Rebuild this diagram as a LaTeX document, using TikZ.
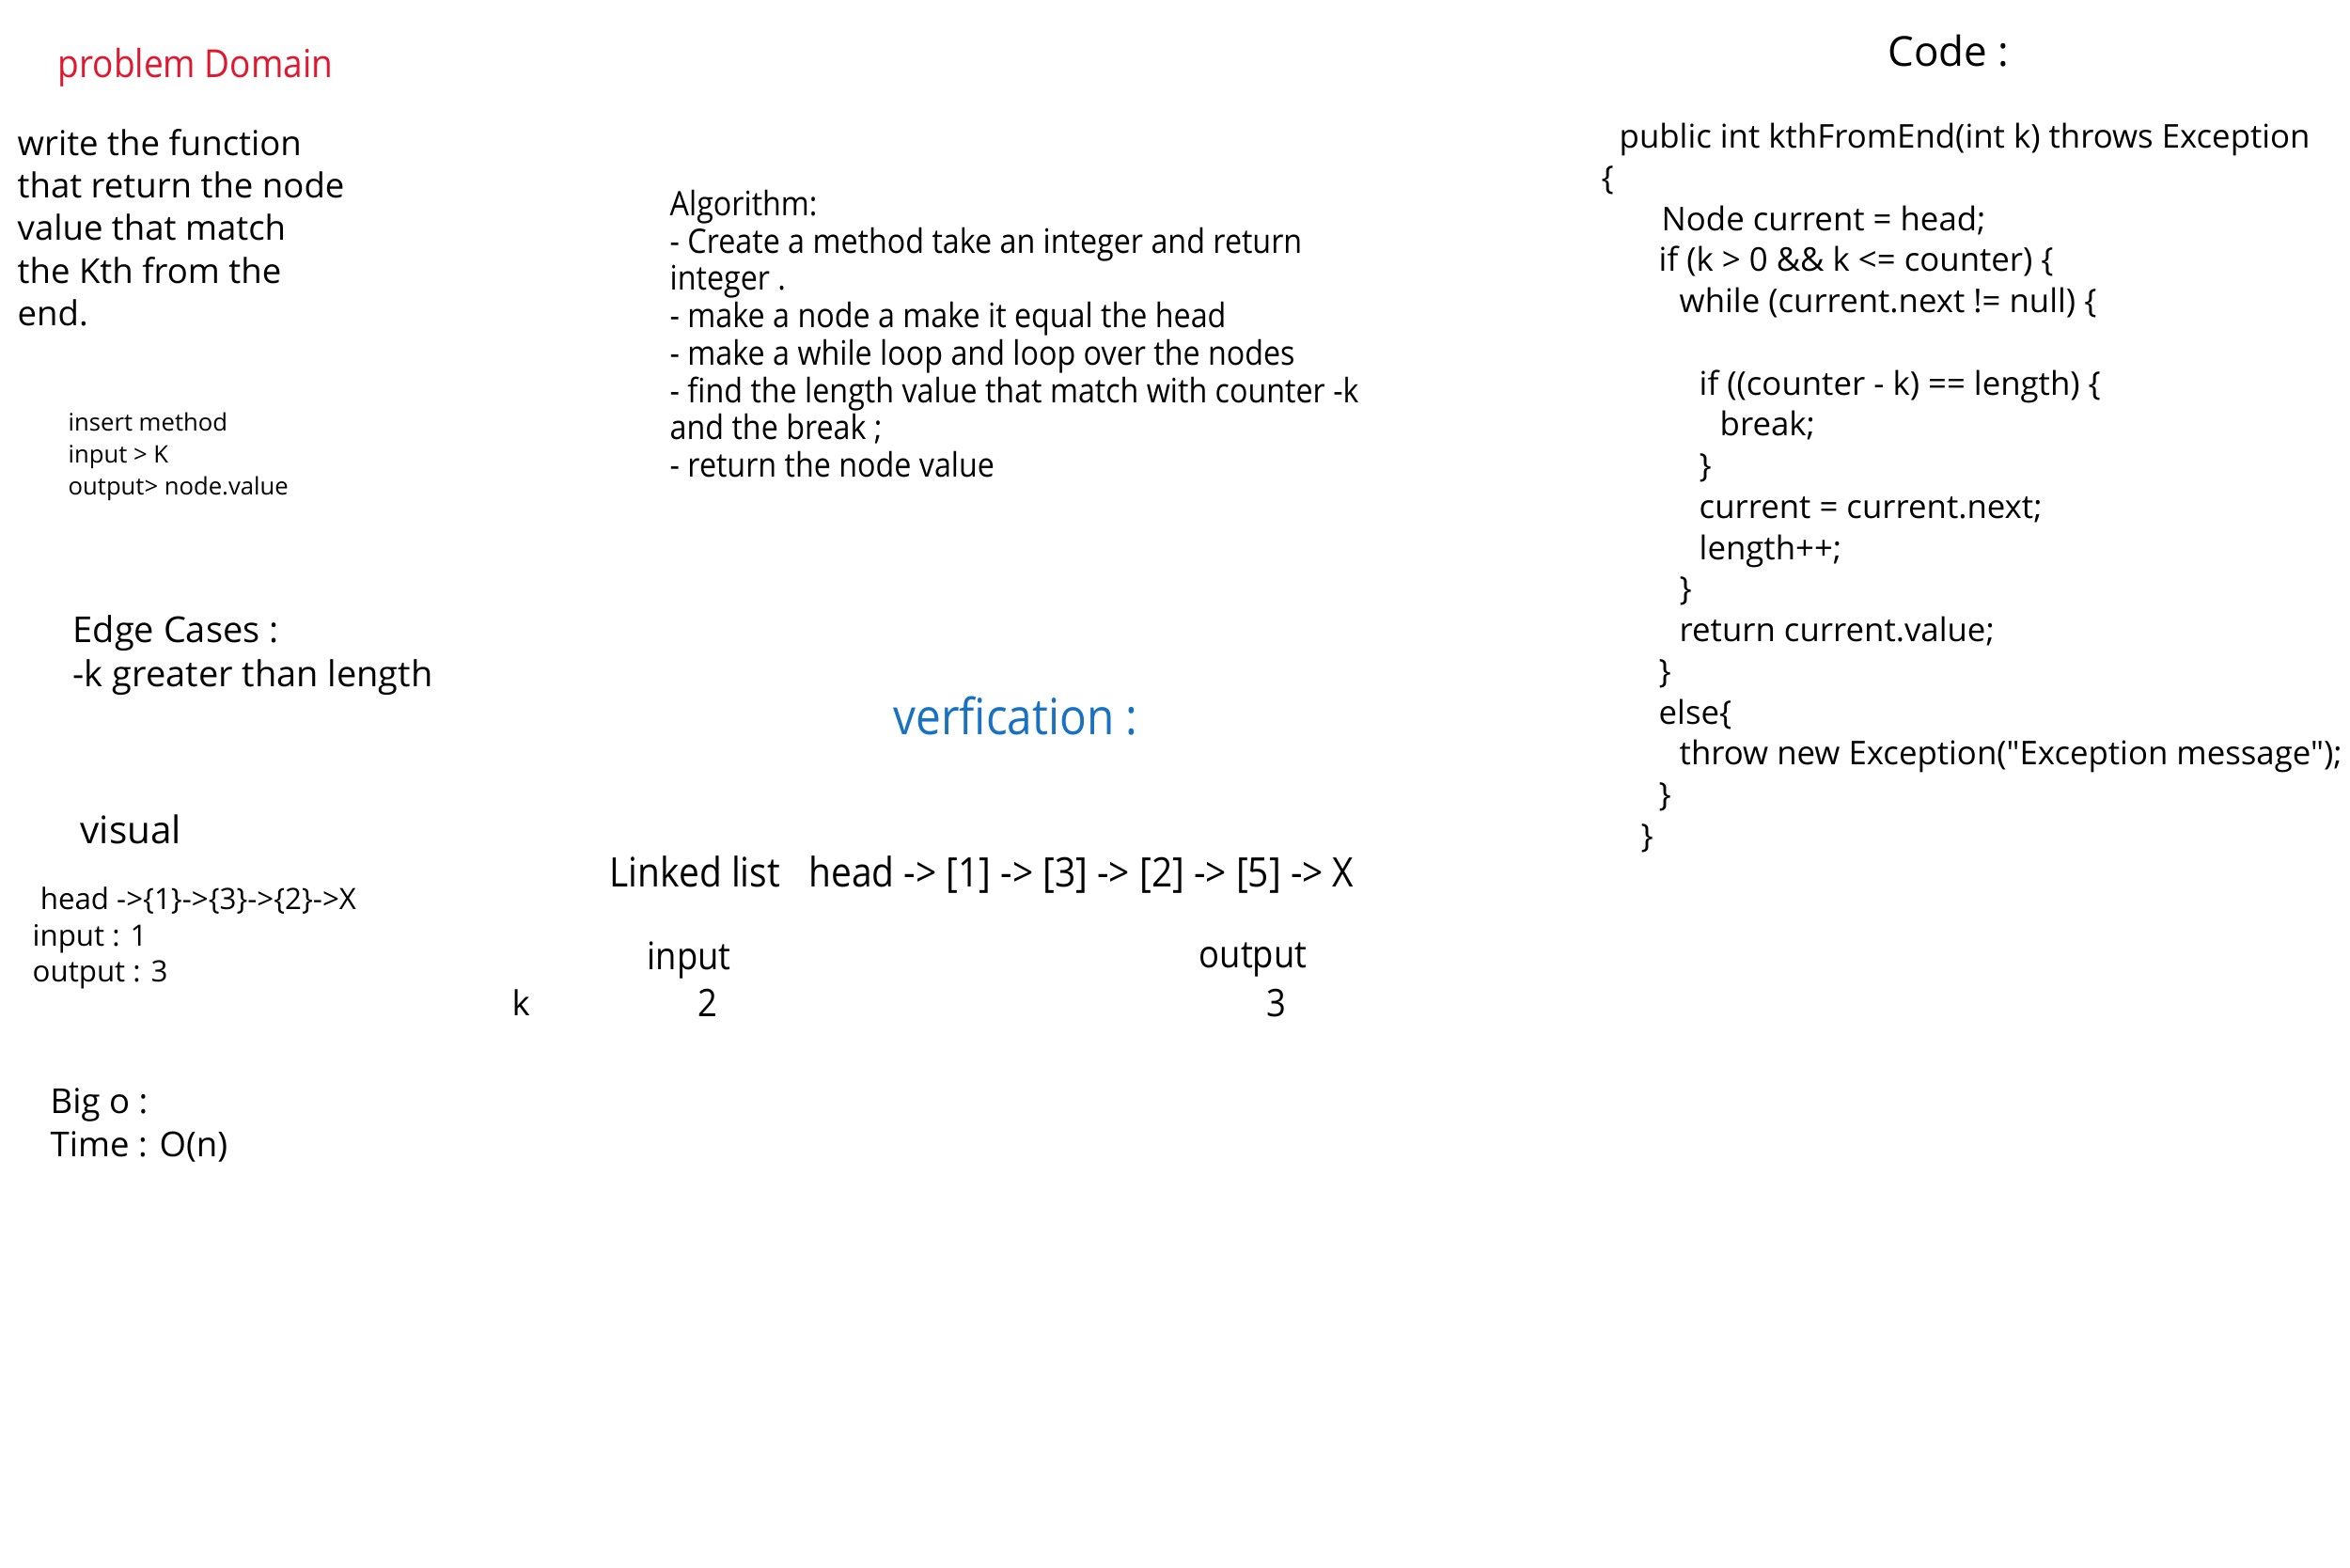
\documentclass[tikz,border=0pt]{standalone}
\usepackage{fontspec}
\setmainfont{Open Sans}
\newfontfamily\narrowhand[FakeStretch=0.9]{Open Sans}
\newfontfamily\codehand[Ligatures=TeXOff]{Open Sans}
\definecolor{domainred}{HTML}{E0182F}
\definecolor{verifyblue}{HTML}{1971C2}

\begin{document}
\begin{tikzpicture}[
		every node/.style={inner sep=0pt, anchor=west, align=left},
		hand/.style={font=\fontsize{10.4}{12.9}\selectfont},
		handbig/.style={font=\fontsize{10.8}{13.2}\selectfont},
		handsmall/.style={font=\fontsize{7.3}{9.6}\selectfont},
		handmid/.style={font=\fontsize{8.9}{10.9}\selectfont},
		narrow/.style={font=\narrowhand\fontsize{10.2}{11.3}\selectfont},
		narrowmid/.style={font=\narrowhand\fontsize{11.5}{13}\selectfont},
		codetext/.style={font=\codehand\fontsize{9.9}{12.45}\selectfont}
	]
	\useasboundingbox (0, 0) rectangle (25, -16.67);
	%% left column
	\node[font=\narrowhand\fontsize{11.7}{14}\selectfont, text=domainred] (domain) at (0.61, -0.72) {problem Domain};
	\node[hand] (task) at (0.18, -2.42) {write the function\\that return the node\\value that match\\the Kth from the\\end.};
	\node[handsmall] (method) at (0.72, -4.86) {insert method\\input > K\\output> node.value};
	\node[handbig] (edge) at (0.77, -6.97) {Edge Cases :\\-k greater than length};
	\node[font=\fontsize{11.5}{14}\selectfont] (visual) at (0.85, -8.82) {visual};
	\node[handmid] (example) at (0.34, -9.98) {\ head ->\{1\}->\{3\}->\{2\}->X\\input : 1\\output : 3};
	\node[hand] (bigo) at (0.53, -11.97) {Big o :\\Time : O(n)};
	%%
	\node[narrow] (algo) at (7.12, -3.55) {Algorithm:\\- Create a method take an integer and return\\integer .\\- make a node a make it equal the head\\- make a while loop and loop over the nodes\\- find the length value that match with counter -k\\and the break ;\\- return the node value};
	\node[font=\narrowhand\fontsize{15.1}{18}\selectfont, text=verifyblue] (verify) at (9.50, -7.62) {verfication :};
	\node[font=\narrowhand\fontsize{12.3}{14}\selectfont] (linked) at (6.48, -9.30) {Linked list\ \ \ head -> [1] -> [3] -> [2] -> [5] -> X};
	\node[narrowmid] (input) at (6.88, -10.21) {input};
	\node[narrowmid] (inval) at (7.42, -10.67) {2};
	\node[narrowmid] (output) at (12.75, -10.21) {output};
	\node[narrowmid] (outval) at (13.47, -10.67) {3};
	\node[hand] (kname) at (5.44, -10.67) {k};
	%% code column
	\node[font=\fontsize{12.5}{15}\selectfont] (codetitle) at (20.08, -0.54) {Code :};
	\node[codetext] (code) at (17.03, -5.19) {%
		\hspace*{0.19cm}public int kthFromEnd(int k) throws Exception\\
		\{\\
		\hspace*{0.64cm}Node current = head;\\
		\hspace*{0.61cm}if (k > 0 \&\& k <= counter) \{\\
		\hspace*{0.83cm}while (current.next != null) \{\\
		\mbox{}\\
		\hspace*{1.04cm}if ((counter - k) == length) \{\\
		\hspace*{1.26cm}break;\\
		\hspace*{1.04cm}\}\\
		\hspace*{1.04cm}current = current.next;\\
		\hspace*{1.04cm}length++;\\
		\hspace*{0.83cm}\}\\
		\hspace*{0.83cm}return current.value;\\
		\hspace*{0.61cm}\}\\
		\hspace*{0.61cm}else\{\\
		\hspace*{0.83cm}throw new Exception("Exception message");\\
		\hspace*{0.61cm}\}\\
		\hspace*{0.42cm}\}};
\end{tikzpicture}
\end{document}
